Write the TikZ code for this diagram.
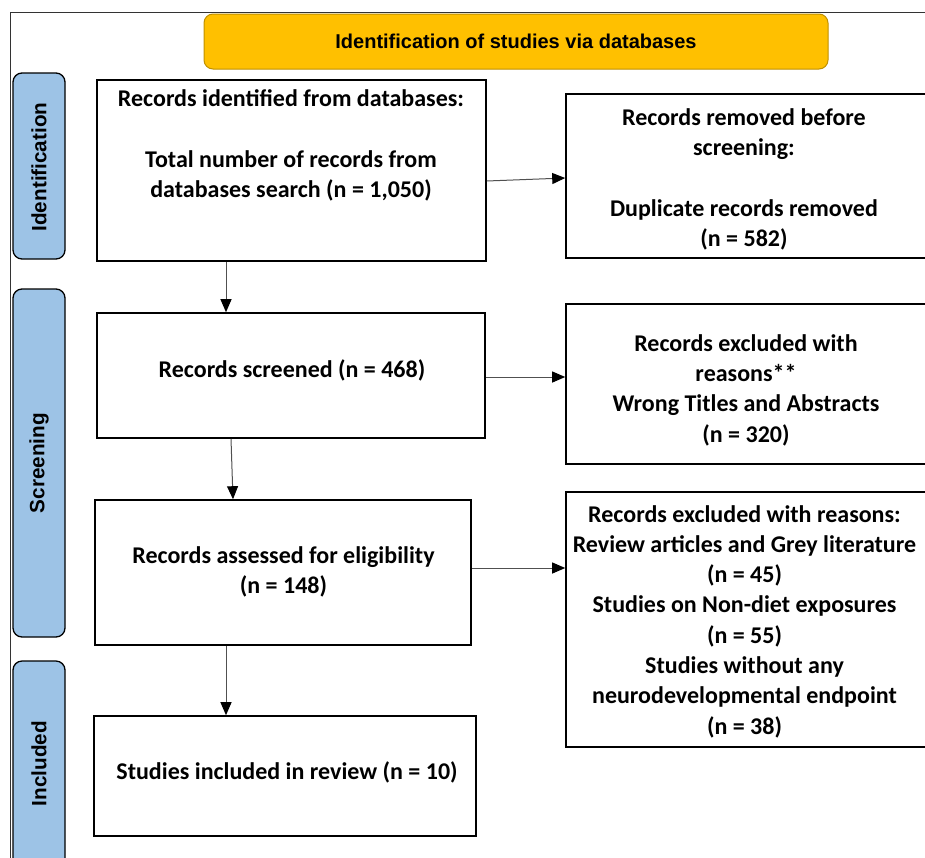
\documentclass[tikz,border=0pt]{standalone}
\usepackage{fontspec}
\setmainfont{Carlito}
\newfontfamily\arialf{Liberation Sans}
\usetikzlibrary{arrows.meta,calc}
\definecolor{hdrfill}{HTML}{FFC000}
\definecolor{hdrline}{HTML}{BF9000}
\definecolor{sidefill}{HTML}{9DC3E6}
\definecolor{conn}{HTML}{505050}
\tikzset{
  box/.style={draw=black, line width=1.6pt, inner sep=0pt, rectangle},
  txt/.style={align=center, inner sep=0pt, font=\fontsize{24}{30.3}\selectfont\bfseries},
  side/.style={draw=black, line width=1.3pt, fill=sidefill, rounded corners=9pt, inner sep=0pt, minimum width=52pt},
  sidetxt/.style={rotate=90, inner sep=0pt, font=\arialf\fontsize{20.7}{24}\selectfont\bfseries},
  arr/.style={draw=conn, line width=1pt, -{Triangle[length=13pt,width=11pt,fill=black,color=black]}},
}
\begin{document}
\begin{tikzpicture}[x=1pt,y=-1pt]
\useasboundingbox (0,0) rectangle (925,857);
\clip (0,0) rectangle (925,857);
% frame
\draw[line width=1pt, draw=black!80] (10,870) -- (10,12) -- (935,12);
% header
\node[draw=hdrline, line width=1pt, fill=hdrfill, rounded corners=9pt, minimum width=624pt, minimum height=55pt, inner sep=0pt,
      font=\arialf\fontsize{20}{24}\selectfont\bfseries] (hdr) at (516,41.5) {Identification of studies via databases};
% side bars
\node[side, minimum height=186pt] (s1) at (39,166) {};
\node[sidetxt] (s1t) at (39,167) {Identification};
\node[side, minimum height=348pt] (s2) at (39,463) {};
\node[sidetxt] (s2t) at (39,463) {Screening};
\node[side, minimum height=230pt] (s3) at (39,776) {};
\node[sidetxt] (s3t) at (39,763.5) {Included};
% boxes
\node[box, minimum width=389pt, minimum height=181pt] (b1) at (291.5,170.5) {};
\node[txt] (t1) at (291,145.5) {Records identified from databases:\\[0pt] \\ Total number of records from\\ databases search (n = 1,050)};
\node[box, minimum width=370pt, minimum height=164pt] (b2) at (751,176) {};
\node[txt] (t2) at (744,179.5) {Records removed before\\ screening:\\ \\ Duplicate records removed\\ (n = 582)};
\node[box, minimum width=388pt, minimum height=125pt] (b3) at (291,375.5) {};
\node[txt] (t3) at (292,370) {Records screened (n = 468)};
\node[box, minimum width=370pt, minimum height=160pt] (b4) at (751,384) {};
\node[txt] (t4) at (746,390) {Records excluded with\\ reasons**\\ Wrong Titles and Abstracts\\ (n = 320)};
\node[box, minimum width=376pt, minimum height=145pt] (b5) at (283,572.5) {};
\node[txt] (t5) at (283.5,572) {Records assessed for eligibility\\ (n = 148)};
\node[box, minimum width=370pt, minimum height=255pt] (b6) at (751,619.5) {};
\node[txt] (t6) at (744.5,621.5) {Records excluded with reasons:\\ Review articles and Grey literature\\ (n = 45)\\ Studies on Non-diet exposures\\ (n = 55)\\ Studies without any\\ neurodevelopmental endpoint\\ (n = 38)};
\node[box, minimum width=382pt, minimum height=120pt] (b7) at (285,776) {};
\node[txt] (t7) at (287,772) {Studies included in review (n = 10)};
% connectors
\draw[arr] ($(b1.east)+(0,10.5)$) -- ($(b2.west)+(0,2)$);
\draw[arr] ($(b1.south)+(-65.5,0)$) -- ($(b3.north)+(-65,0)$);
\draw[arr] ($(b3.east)+(0,1.5)$) -- ($(b4.west)+(0,-7)$);
\draw[arr] ($(b3.south)+(-60,0)$) -- ($(b5.north)+(-50,0)$);
\draw[arr] ($(b5.east)+(0,-4.5)$) -- ($(b6.west)+(0,-51.5)$);
\draw[arr] ($(b5.south)+(-57,0)$) -- ($(b7.north)+(-59,0)$);
\end{tikzpicture}
\end{document}
